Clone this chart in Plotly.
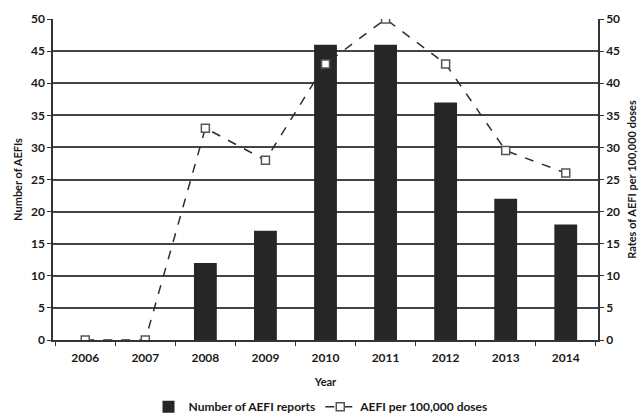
import plotly.graph_objects as go

years = ["2006", "2007", "2008", "2009", "2010", "2011", "2012", "2013", "2014"]
aefi_reports = [0, 0, 12, 17, 46, 46, 37, 22, 18]
aefi_rate = [0, 0, 33, 28, 43, 50, 43, 29.5, 26]
y_ticks = [0, 5, 10, 15, 20, 25, 30, 35, 40, 45, 50]

FONT = "Lato"
INK = "#1a1a1a"

fig = go.Figure()
fig.add_trace(go.Bar(
    x=years, y=aefi_reports, name="Number of AEFI reports",
    marker=dict(color="#262626", line=dict(width=0)),
    width=0.38, yaxis="y",
))
fig.add_trace(go.Scatter(
    x=years, y=aefi_rate, name="AEFI per 100,000 doses",
    mode="lines+markers", yaxis="y2",
    line=dict(color="#2e2e2e", width=1.5, dash="dash"),
    marker=dict(symbol="square", size=8, color="white",
                line=dict(color="#555555", width=1.5)),
))

tick_font = dict(family=FONT, size=12, color=INK, weight="bold")
title_font = dict(family=FONT, size=11, color=INK)
fig.update_layout(
    width=642, height=415,
    margin=dict(l=53, r=44, t=19, b=75, autoexpand=False),
    paper_bgcolor="white", plot_bgcolor="white",
    font=dict(family=FONT, size=12, color=INK),
    xaxis=dict(
        type="category", showgrid=False, showline=True, linecolor="#333333",
        linewidth=1.5, ticks="outside", tickson="boundaries", ticklen=4,
        tickcolor="#333333", tickfont=tick_font, ticklabelstandoff=6,
        title=dict(text="<b>Year</b>", font=title_font, standoff=14),
    ),
    yaxis=dict(
        range=[0, 50], tickvals=y_ticks, showgrid=True, gridcolor="#444444",
        gridwidth=1.5, showline=True, linecolor="#333333", linewidth=1.5,
        ticks="outside", ticklen=4, tickcolor="#333333", zeroline=False,
        tickfont=tick_font,
        title=dict(text="<b>Number of AEFIs</b>", font=title_font, standoff=6),
    ),
    yaxis2=dict(
        range=[0, 50], tickvals=y_ticks, overlaying="y", side="right",
        showgrid=False, showline=True, linecolor="#333333", linewidth=1.5,
        ticks="outside", ticklen=4, tickcolor="#333333", zeroline=False,
        tickfont=tick_font,
        title=dict(text="<b>Rates of AEFI per 100,000 doses</b>",
                   font=title_font, standoff=9),
    ),
    legend=dict(
        orientation="h", x=0.5, xanchor="center", xref="container",
        y=0.02, yanchor="middle", yref="container",
        font=dict(family=FONT, size=12, color=INK, weight="bold"),
        itemwidth=30, traceorder="normal",
    ),
    showlegend=True,
)
fig.write_html("out.html")
